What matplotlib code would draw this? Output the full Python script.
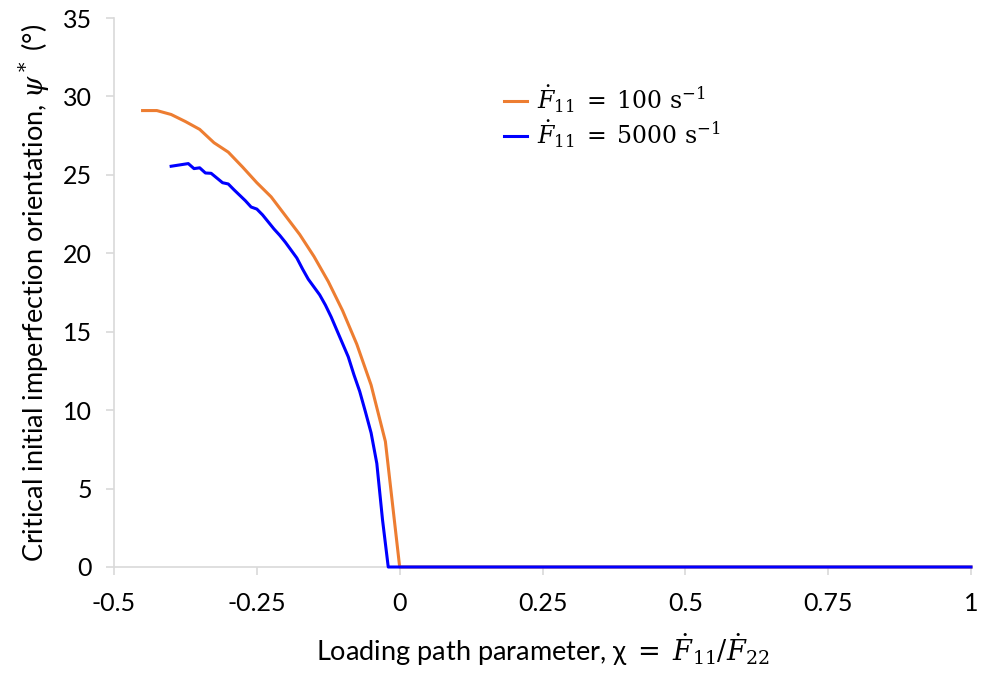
import numpy as np
import matplotlib.pyplot as plt

# Critical imperfection orientation vs loading path parameter
chi_100 = [-0.45, -0.425, -0.4, -0.375, -0.35, -0.325, -0.3, -0.275, -0.25, -0.225,
           -0.2, -0.175, -0.15, -0.125, -0.1, -0.075, -0.05, -0.025, 0.0,
           0.25, 0.5, 0.75, 1.0]
psi_100 = [29.1, 29.1, 28.85, 28.4, 27.9, 27.05, 26.45, 25.5, 24.5, 23.6,
           22.4, 21.2, 19.8, 18.2, 16.35, 14.2, 11.6, 8.0, 0.0,
           0.0, 0.0, 0.0, 0.0]

chi_5000 = [-0.40, -0.37, -0.36, -0.35, -0.34, -0.33, -0.32, -0.31, -0.30, -0.29,
            -0.28, -0.27, -0.26, -0.25, -0.24, -0.23, -0.22, -0.21, -0.20, -0.19,
            -0.18, -0.17, -0.16, -0.15, -0.14, -0.13, -0.12, -0.11, -0.10, -0.09,
            -0.08, -0.07, -0.06, -0.05, -0.04, -0.03, -0.02,
            0.0, 0.25, 0.5, 0.75, 1.0]
psi_5000 = [25.55, 25.72, 25.4, 25.45, 25.12, 25.1, 24.8, 24.5, 24.42, 24.05,
            23.7, 23.35, 22.95, 22.82, 22.45, 22.0, 21.55, 21.15, 20.7, 20.2,
            19.7, 19.0, 18.35, 17.85, 17.35, 16.7, 15.95, 15.1, 14.25, 13.4,
            12.25, 11.2, 9.9, 8.55, 6.6, 3.0, 0.0,
            0.0, 0.0, 0.0, 0.0, 0.0]

x_ticks = [-0.5, -0.25, 0, 0.25, 0.5, 0.75, 1]
x_ticklabels = ['-0.5', '-0.25', '0', '0.25', '0.5', '0.75', '1']
y_ticks = [0, 5, 10, 15, 20, 25, 30, 35]

plt.rcParams['font.family'] = ['Lato', 'DejaVu Sans']
plt.rcParams['mathtext.fontset'] = 'dejavuserif'

fig = plt.figure(figsize=(9.82, 6.75), dpi=100)
ax = fig.add_axes([0.1161, 0.16, 0.8727, 0.8133])

ax.plot(chi_100, psi_100, color='#ED7D31', lw=2.2, clip_on=False, zorder=3,
        label=r'$\dot{F}_{11}\;=\;100\ \mathrm{s}^{-1}$')
ax.plot(chi_5000, psi_5000, color='#0000FF', lw=2.2, clip_on=False, zorder=3,
        label=r'$\dot{F}_{11}\;=\;5000\ \mathrm{s}^{-1}$')

ax.set_xlim(-0.5, 1)
ax.set_ylim(0, 35)
ax.set_xticks(x_ticks)
ax.set_xticklabels(x_ticklabels)
ax.set_yticks(y_ticks)

for side in ['top', 'right']:
    ax.spines[side].set_visible(False)
for side in ['left', 'bottom']:
    ax.spines[side].set_color('#d9d9d9')
    ax.spines[side].set_linewidth(1.2)
ax.tick_params(axis='both', direction='out', length=6, width=1.2,
               color='#d9d9d9', labelsize=18, labelcolor='black')
ax.tick_params(axis='x', pad=12)
ax.tick_params(axis='y', pad=10)

ax.set_xlabel(r'Loading path parameter, χ $=\;\dot{F}_{11}/\dot{F}_{22}$',
              fontsize=19.5, labelpad=12)
ax.set_ylabel(r'Critical initial imperfection orientation, $\psi^*$ (°)',
              fontsize=19.5, labelpad=8)

ax.legend(loc='upper left', bbox_to_anchor=(0.43, 0.92), frameon=False,
          fontsize=17, handlelength=1.0, handletextpad=0.4, labelspacing=0.15)

fig.savefig('out.png', dpi=100)
